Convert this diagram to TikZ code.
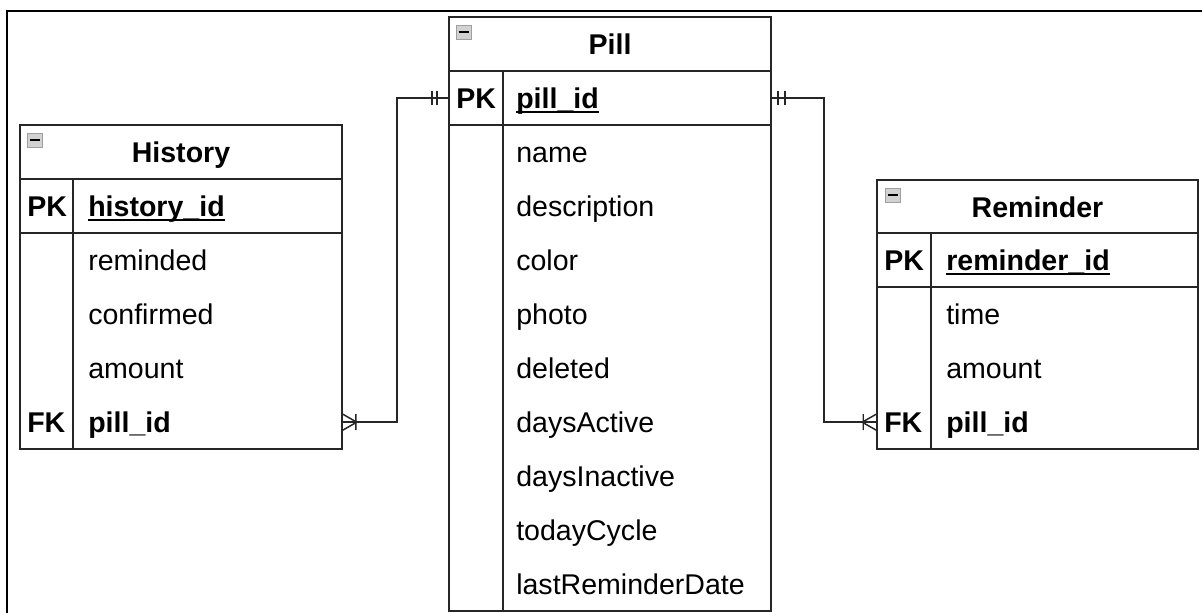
\documentclass[tikz,border=0pt]{standalone}
\usepackage{fontspec}
\setmainfont{Liberation Sans}
\usetikzlibrary{fit}
\newcommand{\erfont}{\fontsize{20.3pt}{24pt}\selectfont}
\newcommand{\pkname}[1]{\setbox0\hbox{#1}\rlap{\rule[-3.8pt]{\wd0}{1.4pt}}\box0}

\begin{document}
\begin{tikzpicture}[x=0.025cm, y=-0.025cm,
    tbl/.style={draw=black!85, line width=1.1pt, inner sep=0pt},
    tline/.style={black!85, line width=1.1pt},
    rel/.style={black!85, line width=1.05pt},
    title/.style={font=\erfont\bfseries, anchor=base, inner sep=0pt},
    key/.style={font=\erfont\bfseries, anchor=base west, inner sep=0pt},
    field/.style={font=\erfont, anchor=base west, inner sep=0pt},
    icon/.style={fill=gray!35, draw=gray!75, line width=0.6pt}]
    \useasboundingbox (0,0) rectangle (1202,612);
    % screenshot frame
    \draw[line width=1.5pt] (7,614) -- (7,11) -- (1204,11);

    % History
    \node[tbl, fit={(20,125) (342,449)}] (hist) {};
    \draw[tline] (20,179) -- (342,179) (20,233) -- (342,233) (73,179) -- (73,449);
    \draw[icon] (27,133) rectangle (42,147);
    \draw[line width=1pt] (29.5,140) -- (39.5,140);
    \node[title] (hist-t) at (181,162) {History};
    \node[key] (hpk) at (27,216) {PK};
    \node[key] (hpk-f) at (88,216) {\pkname{history\_id}};
    \foreach \f [count=\i] in {reminded,confirmed,amount}
      \node[field] (h-\i) at (88,{233+54*(\i-1)+37}) {\f};
    \node[key] (hfk) at (27,432) {FK};
    \node[key] (hfk-f) at (88,432) {pill\_id};

    % Pill
    \node[tbl, fit={(449,17) (771,611)}] (pill) {};
    \draw[tline] (449,71) -- (771,71) (449,125) -- (771,125) (503,71) -- (503,611);
    \draw[icon] (456,25) rectangle (471,39);
    \draw[line width=1pt] (458.5,32) -- (468.5,32);
    \node[title] (pill-t) at (610,54) {Pill};
    \node[key] (ppk) at (456,108) {PK};
    \node[key] (ppk-f) at (516,108) {\pkname{pill\_id}};
    \foreach \f [count=\i] in {name,description,color,photo,deleted,daysActive,daysInactive,todayCycle,lastReminderDate}
      \node[field] (p-\i) at (516,{125+54*(\i-1)+37}) {\f};

    % Reminder
    \node[tbl, fit={(877,180) (1198,449)}] (rem) {};
    \draw[tline] (877,233) -- (1198,233) (877,287) -- (1198,287) (931,233) -- (931,449);
    \draw[icon] (885,188) rectangle (900,202);
    \draw[line width=1pt] (887.5,195) -- (897.5,195);
    \node[title] (rem-t) at (1037.5,217) {Reminder};
    \node[key] (rpk) at (884,270) {PK};
    \node[key] (rpk-f) at (946,270) {\pkname{reminder\_id}};
    \foreach \f [count=\i] in {time,amount}
      \node[field] (r-\i) at (946,{287+54*(\i-1)+37}) {\f};
    \node[key] (rfk) at (884,432) {FK};
    \node[key] (rfk-f) at (946,432) {pill\_id};

    % relations
    \coordinate (hist-end) at (hfk -| hist.east);
    \coordinate (pill-in) at (ppk -| pill.west);
    \coordinate (pill-out) at (ppk -| pill.east);
    \coordinate (rem-end) at (rfk -| rem.west);
    \draw[rel] (hist-end) -- ++(54,0) |- (pill-in);
    \draw[rel] (pill-out) -- ++(52,0) |- (rem-end);
    \draw[rel, shift={(hist-end)}] (0,-8) -- (14,0) -- (0,8) (13,-8) -- (13,8);
    \draw[rel, shift={(pill-in)}] (-16,-7) -- (-16,7) (-11,-7) -- (-11,7);
    \draw[rel, shift={(pill-out)}] (6,-7) -- (6,7) (13,-7) -- (13,7);
    \draw[rel, shift={(rem-end)}] (0,-8) -- (-14,0) -- (0,8) (-13,-8) -- (-13,8);
\end{tikzpicture}
\end{document}
